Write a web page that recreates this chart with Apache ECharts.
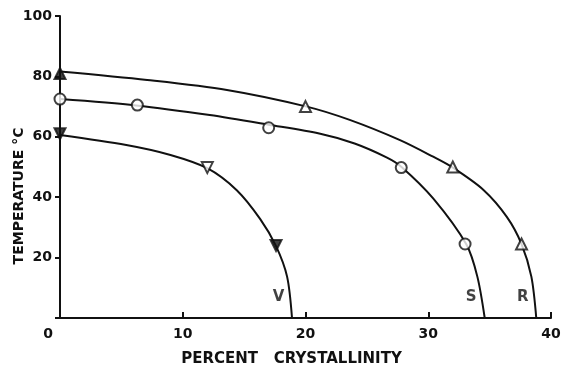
<!DOCTYPE html>
<html>
<head>
<meta charset="utf-8">
<script src="https://cdn.jsdelivr.net/npm/echarts@6/dist/echarts.min.js"></script>
<style>html,body{margin:0;padding:0;background:#fff}#c{width:561px;height:366px}</style>
</head>
<body>
<div id="c"></div>
<script>
// Curves [crystallinity %, temperature °C]
var curveR = [[0,81.6],[7.1,78.8],[13.6,75.5],[20.1,70],[23.6,65.6],[27.7,58.9],[30.4,53.4],[32.0,49.8],[34.5,42.4],[36.4,33.5],[37.6,24.5],[38.4,13.7],[38.8,0]];
var curveS = [[0,72.5],[6.2,70.4],[12.2,67.2],[17,64.0],[21.2,61.0],[24.0,57.8],[26.6,53.2],[27.8,50.1],[30.4,39.6],[33.1,24.4],[34.0,13.7],[34.6,0]];
var curveV = [[0,60.6],[5.4,57.3],[9.0,54.0],[12.0,49.6],[14.4,42.3],[16.3,32.8],[17.6,23.8],[18.5,13.7],[18.9,0]];
// Measured points
var pointsR = [[0,81],[20,70],[32,50],[37.6,24.5]];
var pointsS = [[0,72.5],[6.3,70.5],[17,63],[27.8,49.8],[33,24.5]];
var pointsV = [[0,61],[12,49.8],[17.6,24]];
var filledR = [true,false,false,false];
var filledS = [false,false,false,false,false];
var filledV = [true,false,true];
// Curve name labels
var curveNames = ['V','S','R'];
var curveNameX = [17.8,33.5,37.7];
var curveNameY = [6.8,6.8,6.8];
var xTicks = [0,10,20,30,40];
var yTicks = [20,40,60,80,100];

var ink = '#111';
var font = 'DejaVu Sans';
function pts(arr, filled){
  return arr.map(function(p,i){
    return {value:p, itemStyle:{color: filled[i]?ink:'#fff', borderColor:ink, borderWidth:2}};
  });
}
var chart = echarts.init(document.getElementById('c'));
chart.setOption({
  animation:false,
  grid:{left:60,right:10,top:16,bottom:48,outerBoundsMode:'none',containLabel:false},
  xAxis:{type:'value',min:0,max:40,interval:10,
    name:'PERCENT   CRYSTALLINITY',nameLocation:'middle',nameGap:34,nameMoveOverlap:false,
    nameTextStyle:{fontFamily:font,fontWeight:'bold',fontSize:15,color:ink,padding:[0,28,0,0]},
    axisLine:{show:true,lineStyle:{color:ink,width:2}},
    axisTick:{show:true,inside:true,length:6,lineStyle:{color:ink,width:2}},
    axisLabel:{fontFamily:font,fontWeight:'bold',fontSize:14,color:ink,margin:9,
      formatter:function(v){
        if(v===0) return '{z|0}';
        return xTicks.indexOf(v)>=0?String(v):'';},
      rich:{z:{fontFamily:font,fontWeight:'bold',fontSize:14,color:ink,padding:[0,24,0,0]}}},
    splitLine:{show:false}},
  yAxis:{type:'value',min:0,max:100,interval:20,
    name:'TEMPERATURE °C',nameLocation:'middle',nameGap:34,nameRotate:90,nameMoveOverlap:false,
    nameTextStyle:{fontFamily:font,fontWeight:'bold',fontSize:14,color:ink,padding:[0,58,0,0]},
    axisLine:{show:true,lineStyle:{color:ink,width:2}},
    axisTick:{show:true,inside:false,length:5,lineStyle:{color:ink,width:2}},
    axisLabel:{fontFamily:font,fontWeight:'bold',fontSize:14,color:ink,margin:8,
      formatter:function(v){return yTicks.indexOf(v)>=0?String(v):'';}},
    splitLine:{show:false}},
  series:[
    {type:'line',data:curveR,smooth:0.3,symbol:'none',lineStyle:{color:ink,width:2},z:2},
    {type:'line',data:curveS,smooth:0.3,symbol:'none',lineStyle:{color:ink,width:2},z:2},
    {type:'line',data:curveV,smooth:0.3,symbol:'none',lineStyle:{color:ink,width:2},z:2},
    {type:'scatter',data:pts(pointsR,filledR),symbol:'triangle',symbolSize:11,z:3,clip:false},
    {type:'scatter',data:pts(pointsS,filledS),symbol:'circle',symbolSize:11,z:3,clip:false},
    {type:'scatter',data:pts(pointsV,filledV),symbol:'triangle',symbolRotate:180,symbolSize:11,z:3,clip:false},
    {type:'scatter',symbolSize:0,z:4,
      data:curveNames.map(function(n,i){return {value:[curveNameX[i],curveNameY[i]],name:n};}),
      label:{show:true,position:'inside',formatter:'{b}',fontFamily:font,fontWeight:'bold',fontSize:15,color:ink,textBorderWidth:0}}
  ]
});
</script>
</body>
</html>
